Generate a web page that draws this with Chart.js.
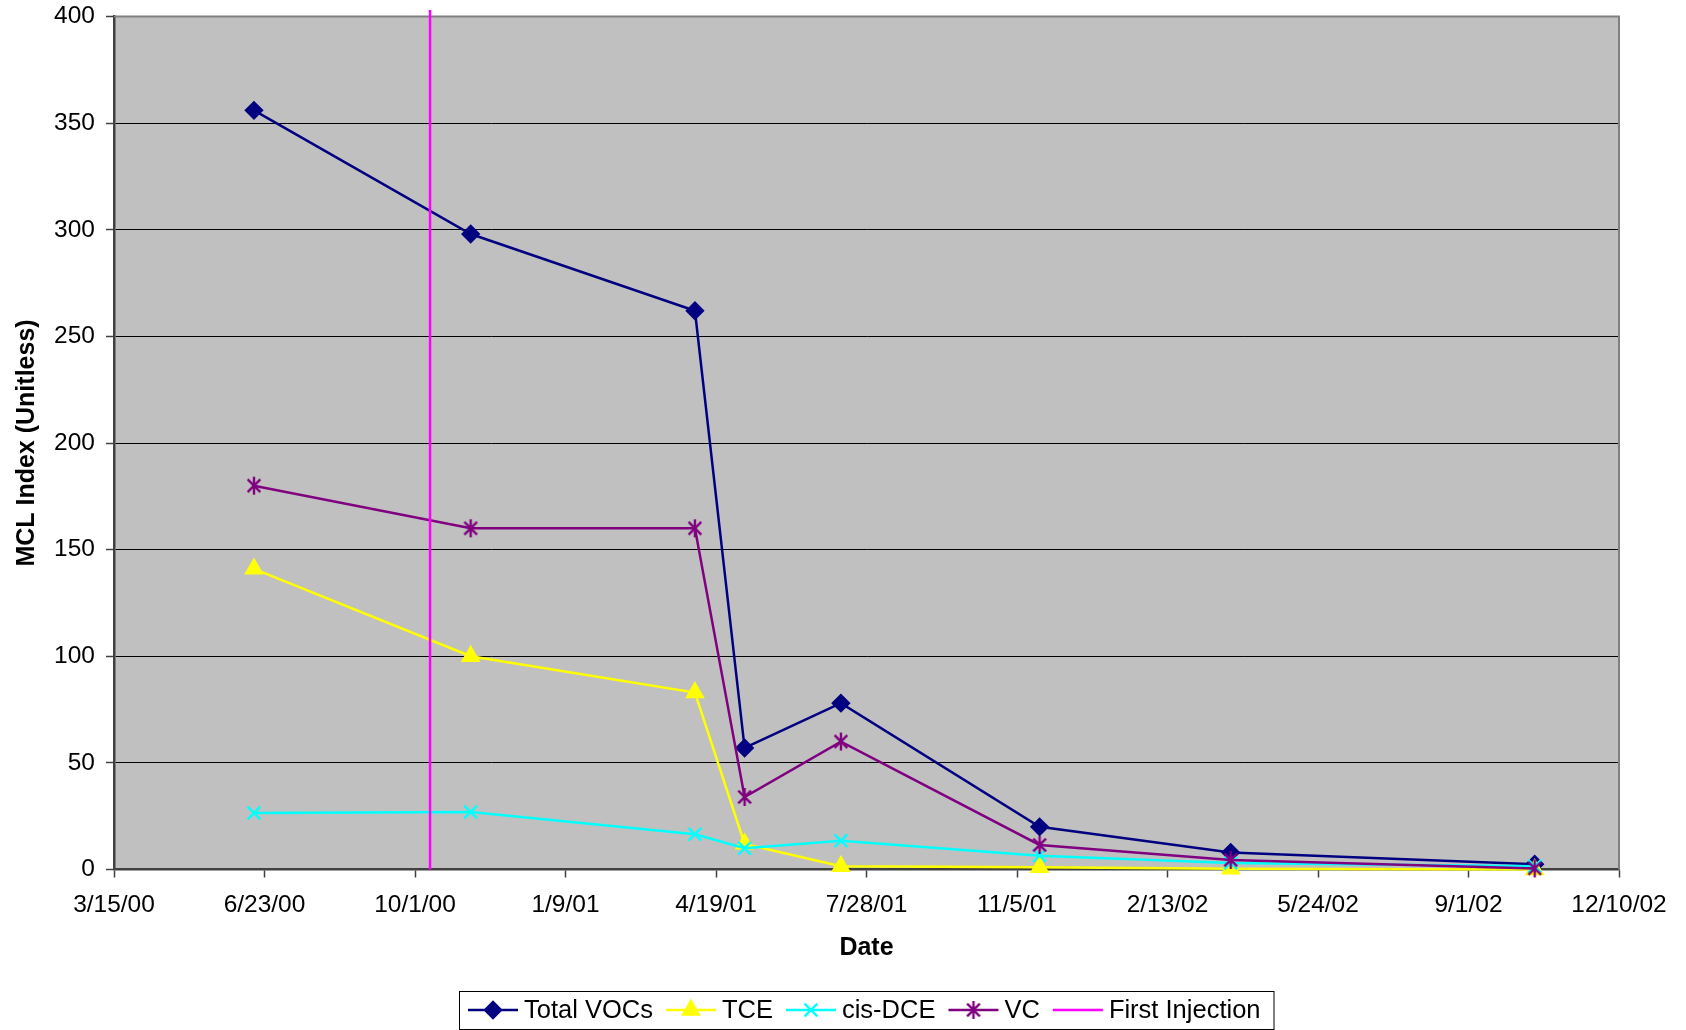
<!DOCTYPE html>
<html>
<head>
<meta charset="utf-8">
<script src="https://cdn.jsdelivr.net/npm/chart.js@4"></script>
<style>
  html, body { margin: 0; padding: 0; background: #fff; }
</style>
</head>
<body>
<canvas id="chart" width="1686" height="1030"></canvas>
<script>
// ---- data ----
const sampleDates = ["6/16/00", "11/7/00", "4/5/01", "5/8/01", "7/11/01", "11/20/01", "3/27/02", "10/15/02"];
const totalVOCs = [356, 298, 262, 57, 78, 20, 8, 2.5];
const tce = [141, 100, 83, 12, 1.5, 1, 0.3, 0];
const cisDCE = [26.5, 27, 16.5, 10, 13.5, 6.5, 3, 1.5];
const vc = [180, 160, 160, 34, 60, 11.5, 4.5, 0.5];

const injectionDates = ["10/11/00", "10/11/00"];
const injectionValues = [0, 403];

// x axis: 3/15/00 .. 12/10/02, a tick every 100 days
const axisStart = "3/15/00";
const axisSpanDays = 1000;
const axisStepDays = 100;
const yMax = 400;
const yStep = 50;

const FONT = "'Liberation Sans', Arial, sans-serif";
const DAY = 86400000;

function dateMs(s) {
  const p = s.split("/").map(Number);
  return Date.UTC(2000 + p[2], p[0] - 1, p[1]);
}
function toDay(s) {
  return Math.round((dateMs(s) - dateMs(axisStart)) / DAY);
}
function dayLabel(v) {
  const d = new Date(dateMs(axisStart) + v * DAY);
  return (d.getUTCMonth() + 1) + "/" + d.getUTCDate() + "/" + String(d.getUTCFullYear() % 100).padStart(2, "0");
}
function points(dates, vals) {
  return dates.map((d, i) => ({ x: toDay(d), y: vals[i] }));
}

// asterisk marker (x with a vertical bar) for VC
function asterisk(color, r, lw) {
  const c = document.createElement("canvas");
  c.width = c.height = 2 * r + 4;
  const g = c.getContext("2d");
  const m = r + 2;
  const k = r * Math.SQRT1_2;
  g.strokeStyle = color;
  g.lineWidth = lw;
  g.beginPath();
  g.moveTo(m - k, m - k); g.lineTo(m + k, m + k);
  g.moveTo(m + k, m - k); g.lineTo(m - k, m + k);
  g.moveTo(m, m - r); g.lineTo(m, m + r);
  g.stroke();
  return c;
}

const NAVY = "#000080", YELLOW = "#FFFF00", CYAN = "#00FFFF", PURPLE = "#800080", MAGENTA = "#FF00FF";
const vcMarker = asterisk(PURPLE, 9, 2.4);

const series = [
  { label: "Total VOCs", data: points(sampleDates, totalVOCs), color: NAVY, style: "rectRot", radius: 8, order: 5 },
  { label: "TCE", data: points(sampleDates, tce), color: YELLOW, style: "triangle", radius: 9, order: 4 },
  { label: "cis-DCE", data: points(sampleDates, cisDCE), color: CYAN, style: "crossRot", radius: 9, order: 3 },
  { label: "VC", data: points(sampleDates, vc), color: PURPLE, style: vcMarker, radius: 9, order: 2 },
  { label: "First Injection", data: points(injectionDates, injectionValues), color: MAGENTA, style: false, radius: 0, order: 1 }
];

/* -------- plugins -------- */
const plotBg = {
  id: "plotBg",
  beforeDraw(chart) {
    const a = chart.chartArea, ctx = chart.ctx;
    ctx.save();
    ctx.fillStyle = "#C0C0C0";
    ctx.fillRect(a.left, a.top, a.right - a.left, a.bottom - a.top);
    ctx.restore();
  },
  beforeDatasetsDraw(chart) {
    const a = chart.chartArea, ctx = chart.ctx;
    ctx.save();
    ctx.strokeStyle = "#808080";
    ctx.lineWidth = 2;
    ctx.beginPath();
    ctx.moveTo(a.left, a.top);
    ctx.lineTo(a.right, a.top);
    ctx.lineTo(a.right, a.bottom);
    ctx.stroke();
    ctx.restore();
  }
};

const boxLegend = {
  id: "boxLegend",
  afterDraw(chart) {
    const ctx = chart.ctx;
    const a = chart.chartArea;
    ctx.save();
    ctx.font = "25.5px " + FONT;
    ctx.textBaseline = "middle";
    const lineLen = 50, gap = 6, itemGap = 13, padL = 9, padR = 13;
    let w = padL + padR;
    series.forEach((s, i) => {
      w += lineLen + gap + ctx.measureText(s.label).width + (i ? itemGap : 0);
    });
    const cx = (a.left + a.right) / 2;
    const top = 991, h = 38, cy = top + h / 2;
    let x = Math.round(cx - w / 2);
    ctx.fillStyle = "#fff";
    ctx.fillRect(x, top, w, h);
    ctx.strokeStyle = "#000";
    ctx.lineWidth = 1;
    ctx.strokeRect(x + 0.5, top + 0.5, w, h);
    x += padL;
    series.forEach((s, i) => {
      if (i) x += itemGap;
      ctx.strokeStyle = s.color;
      ctx.lineWidth = 2.5;
      ctx.beginPath();
      ctx.moveTo(x, cy);
      ctx.lineTo(x + lineLen, cy);
      ctx.stroke();
      if (s.style) {
        ctx.fillStyle = s.color;
        ctx.strokeStyle = s.color;
        ctx.lineWidth = 2.4;
        Chart.helpers.drawPoint(ctx, { pointStyle: s.style, radius: s.radius, rotation: 0, borderWidth: 2.4 }, x + lineLen / 2, cy);
      }
      x += lineLen + gap;
      ctx.fillStyle = "#000";
      ctx.fillText(s.label, x, cy + 1);
      x += ctx.measureText(s.label).width;
    });
    ctx.restore();
  }
};

/* -------- chart -------- */
new Chart(document.getElementById("chart"), {
  type: "line",
  data: {
    datasets: series.map((s) => ({
      label: s.label,
      data: s.data,
      borderColor: s.color,
      backgroundColor: s.color,
      borderWidth: 2.5,
      pointStyle: s.style,
      pointRadius: s.radius,
      pointBackgroundColor: s.color,
      pointBorderColor: s.color,
      pointBorderWidth: 2.4,
      tension: 0,
      fill: false,
      order: s.order,
      clip: s.radius ? 10 : false
    }))
  },
  options: {
    responsive: false,
    devicePixelRatio: 1,
    animation: false,
    layout: { padding: { top: 16.5, right: 67, bottom: 60, left: 0 } },
    plugins: {
      legend: { display: false },
      tooltip: { enabled: false }
    },
    scales: {
      x: {
        type: "linear",
        min: 0,
        max: axisSpanDays,
        afterFit(scale) {
          scale.height = 100.5;
          scale.paddingLeft = 0;
          scale.paddingRight = 0;
        },
        ticks: {
          stepSize: axisStepDays,
          autoSkip: false,
          maxRotation: 0,
          padding: 13,
          color: "#000",
          font: { family: FONT, size: 24.5 },
          callback: (v) => dayLabel(v)
        },
        grid: { drawOnChartArea: false, drawTicks: true, tickLength: 8, tickColor: "#404040", tickWidth: 1.5 },
        border: { display: true, color: "#404040", width: 2.5 },
        title: {
          display: true,
          text: "Date",
          color: "#000",
          font: { family: FONT, size: 25, weight: "bold" },
          padding: { top: 0, bottom: 6.6 }
        }
      },
      y: {
        min: 0,
        max: yMax,
        afterFit(scale) {
          scale.width = 114;
          scale.paddingTop = 0;
          scale.paddingBottom = 0;
        },
        ticks: {
          stepSize: yStep,
          padding: 11,
          color: "#000",
          font: { family: FONT, size: 24.5 }
        },
        grid: {
          color: (c) => (c.tick && c.tick.value === yMax ? "#808080" : "#000"),
          lineWidth: 1,
          tickLength: 8,
          tickColor: "#404040",
          tickWidth: 1.5
        },
        border: { display: true, color: "#404040", width: 2.5 },
        title: {
          display: true,
          text: "MCL Index (Unitless)",
          color: "#000",
          font: { family: FONT, size: 25, weight: "bold" },
          padding: { top: 12, bottom: 0 }
        }
      }
    }
  },
  plugins: [plotBg, boxLegend]
});
</script>
</body>
</html>
